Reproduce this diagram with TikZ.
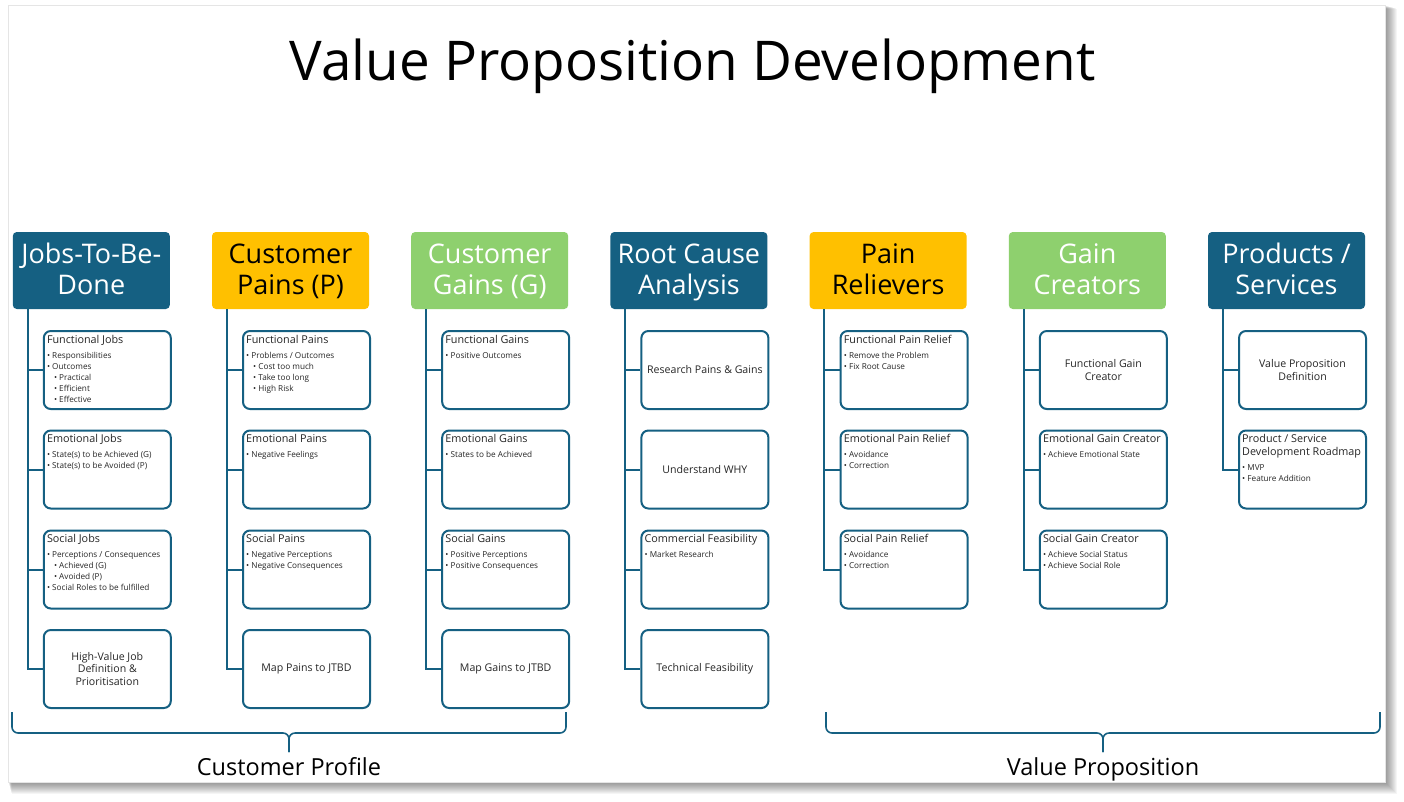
\documentclass[tikz,border=0pt]{standalone}
\usepackage{fontspec}
\setmainfont{Open Sans}
\usetikzlibrary{positioning}
\definecolor{VPBlue}{HTML}{156082}
\definecolor{VPGold}{HTML}{FFC000}
\definecolor{VPGreen}{RGB}{142,208,110}
\definecolor{VPText}{RGB}{38,38,38}
\newcommand\bxttl[1]{{\fontsize{10.8}{12.5}\selectfont #1}}
\newcommand\subb{\hspace*{7pt}}
\newcommand\hdtxt[2]{\raisebox{-2.3pt}[\height][\depth]{%
  \begin{tabular}{@{}c@{}}#1\\#2\end{tabular}}}

\begin{document}
\begin{tikzpicture}[x=1pt,y=-1pt,
    hdr/.style={rounded corners=4,minimum width=157,minimum height=77,inner sep=0,
                font=\fontsize{27}{31}\selectfont},
    hblue/.style={hdr,fill=VPBlue,text=white},
    hgold/.style={hdr,fill=VPGold,text=black},
    hgreen/.style={hdr,fill=VPGreen,text=white},
    cbox/.style={draw=VPBlue,line width=2,rounded corners=7,fill=white,
                 minimum width=127,minimum height=78,inner sep=0,align=center,
                 text=VPText,font=\fontsize{10.6}{12.5}\selectfont},
    btxt/.style={anchor=north west,align=left,inner sep=0,text=VPText,
                 font=\fontsize{8.2}{11}\selectfont},
    trunk/.style={draw=VPBlue,line width=2},
    brk/.style={draw=VPBlue,line width=1.6,rounded corners=6},
    lbl/.style={anchor=base,font=\fontsize{23.5}{28}\selectfont,text=black}
  ]
  \useasboundingbox (0,0) rectangle (1404,801);
  \fill[white] (0,0) rectangle (1404,801);
  % slide with its shadow
  \foreach \i in {1,...,12}
    \fill[black,opacity=0.04] (8+\i*0.3,5+\i*0.3) rectangle (1385+\i,782+\i);
  \fill[white,draw=black!10] (8,5) rectangle (1385,782);

  \node[anchor=base,font=\fontsize{54.8}{60}\selectfont,text=black] (title)
    at (692.5,80) {Value Proposition Development};

  % column heads
  \node[hblue]  (jtbd)  at (91.3,270.5)   {\hdtxt{Jobs-To-Be-}{Done}};
  \node[hgold]  (pains) at (290.5,270.5)  {\hdtxt{Customer}{Pains (P)}};
  \node[hgreen] (gains) at (489.7,270.5)  {\hdtxt{Customer}{Gains (G)}};
  \node[hblue]  (rca)   at (688.9,270.5)  {\hdtxt{Root Cause}{Analysis}};
  \node[hgold]  (relv)  at (888.1,270.5)  {\hdtxt{Pain}{Relievers}};
  \node[hgreen] (crea)  at (1087.3,270.5) {\hdtxt{Gain}{Creators}};
  \node[hblue]  (prod)  at (1286.5,270.5) {\hdtxt{Products /}{Services}};

  % jobs
  \node[cbox] (jtbd1) at (107.3,370) {};
  \node[btxt] at ([shift={(4,5)}]jtbd1.north west) {\bxttl{Functional Jobs}\\[4pt]
    • Responsibilities\\
    • Outcomes\\
    \subb• Practical\\
    \subb• Efficient\\
    \subb• Effective};
  \node[cbox] (jtbd2) at (107.3,469.5) {};
  \node[btxt] at ([shift={(4,5)}]jtbd2.north west) {\bxttl{Emotional Jobs}\\[4pt]
    • State(s) to be Achieved (G)\\
    • State(s) to be Avoided (P)};
  \node[cbox] (jtbd3) at (107.3,569.5) {};
  \node[btxt] at ([shift={(4,5)}]jtbd3.north west) {\bxttl{Social Jobs}\\[4pt]
    • Perceptions / Consequences\\
    \subb• Achieved (G)\\
    \subb• Avoided (P)\\
    • Social Roles to be fulfilled};
  \node[cbox] (jtbd4) at (107.3,669) {High-Value Job\\Definition \&\\Prioritisation};

  % pains
  \node[cbox] (pains1) at (306.5,370) {};
  \node[btxt] at ([shift={(4,5)}]pains1.north west) {\bxttl{Functional Pains}\\[4pt]
    • Problems / Outcomes\\
    \subb• Cost too much\\
    \subb• Take too long\\
    \subb• High Risk};
  \node[cbox] (pains2) at (306.5,469.5) {};
  \node[btxt] at ([shift={(4,5)}]pains2.north west) {\bxttl{Emotional Pains}\\[4pt]
    • Negative Feelings};
  \node[cbox] (pains3) at (306.5,569.5) {};
  \node[btxt] at ([shift={(4,5)}]pains3.north west) {\bxttl{Social Pains}\\[4pt]
    • Negative Perceptions\\
    • Negative Consequences};
  \node[cbox] (pains4) at (306.5,669) {Map Pains to JTBD};

  % gains
  \node[cbox] (gains1) at (505.7,370) {};
  \node[btxt] at ([shift={(4,5)}]gains1.north west) {\bxttl{Functional Gains}\\[4pt]
    • Positive Outcomes};
  \node[cbox] (gains2) at (505.7,469.5) {};
  \node[btxt] at ([shift={(4,5)}]gains2.north west) {\bxttl{Emotional Gains}\\[4pt]
    • States to be Achieved};
  \node[cbox] (gains3) at (505.7,569.5) {};
  \node[btxt] at ([shift={(4,5)}]gains3.north west) {\bxttl{Social Gains}\\[4pt]
    • Positive Perceptions\\
    • Positive Consequences};
  \node[cbox] (gains4) at (505.7,669) {Map Gains to JTBD};

  % root cause
  \node[cbox] (rca1) at (704.9,370) {Research Pains \& Gains};
  \node[cbox] (rca2) at (704.9,469.5) {Understand WHY};
  \node[cbox] (rca3) at (704.9,569.5) {};
  \node[btxt] at ([shift={(4,5)}]rca3.north west) {\bxttl{Commercial Feasibility}\\[4pt]
    • Market Research};
  \node[cbox] (rca4) at (704.9,669) {Technical Feasibility};

  % pain relievers
  \node[cbox] (relv1) at (904.1,370) {};
  \node[btxt] at ([shift={(4,5)}]relv1.north west) {\bxttl{Functional Pain Relief}\\[4pt]
    • Remove the Problem\\
    • Fix Root Cause};
  \node[cbox] (relv2) at (904.1,469.5) {};
  \node[btxt] at ([shift={(4,5)}]relv2.north west) {\bxttl{Emotional Pain Relief}\\[4pt]
    • Avoidance\\
    • Correction};
  \node[cbox] (relv3) at (904.1,569.5) {};
  \node[btxt] at ([shift={(4,5)}]relv3.north west) {\bxttl{Social Pain Relief}\\[4pt]
    • Avoidance\\
    • Correction};

  % gain creators
  \node[cbox] (crea1) at (1103.3,370) {Functional Gain\\Creator};
  \node[cbox] (crea2) at (1103.3,469.5) {};
  \node[btxt] at ([shift={(4,5)}]crea2.north west) {\bxttl{Emotional Gain Creator}\\[4pt]
    • Achieve Emotional State};
  \node[cbox] (crea3) at (1103.3,569.5) {};
  \node[btxt] at ([shift={(4,5)}]crea3.north west) {\bxttl{Social Gain Creator}\\[4pt]
    • Achieve Social Status\\
    • Achieve Social Role};

  % products
  \node[cbox] (prod1) at (1302.5,370) {Value Proposition\\Definition};
  \node[cbox] (prod2) at (1302.5,469.5) {};
  \node[btxt] at ([shift={(4,5)}]prod2.north west) {\bxttl{Product / Service}\\[1.5pt]
    \bxttl{Development Roadmap}\\[4pt]
    • MVP\\
    • Feature Addition};

  % trunks
  \foreach \h/\n in {jtbd/4,pains/4,gains/4,rca/4,relv/3,crea/3,prod/2}
    \foreach \k in {1,...,\n}
      \draw[trunk] ([xshift=15]\h.south west) |- (\h\k.west);

  % brackets
  \coordinate (cpmid) at (289,752);
  \coordinate (vpmid) at (1103,752);
  \draw[brk] (12,712) -- (12,733) -- (289,733) -- (cpmid);
  \draw[brk] (566,712) -- (566,733) -- (289,733) -- (cpmid);
  \draw[brk] (826,712) -- (826,733) -- (1103,733) -- (vpmid);
  \draw[brk] (1380,712) -- (1380,733) -- (1103,733) -- (vpmid);
  \node[lbl] (cprof) at (289,775) {Customer Profile};
  \node[lbl] (vprop) at (1103,775) {Value Proposition};
\end{tikzpicture}
\end{document}
